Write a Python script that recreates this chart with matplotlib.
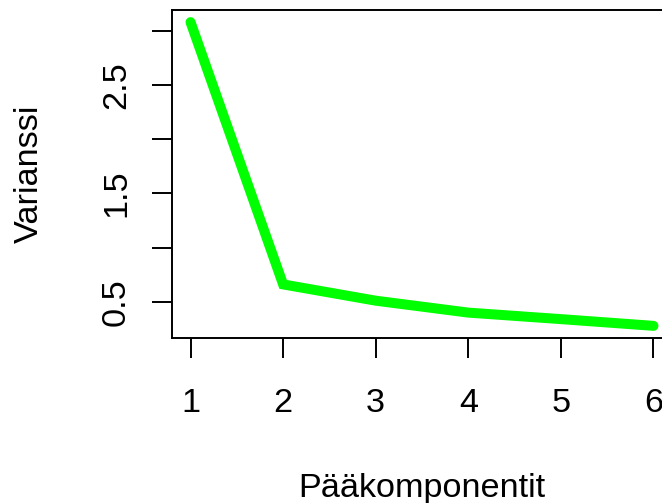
import matplotlib
matplotlib.use("Agg")
import matplotlib.pyplot as plt

# scree plot: variance per principal component
komponentit = [1, 2, 3, 4, 5, 6]
varianssi = [3.077, 0.66, 0.51, 0.40, 0.34, 0.278]
y_ticks = [0.5, 1.0, 1.5, 2.0, 2.5, 3.0]
y_ticklabels = ["0.5", "", "1.5", "", "2.5", ""]

plt.rcParams['font.family'] = ['Liberation Sans', 'DejaVu Sans']
FS = 24.7
PX = 72 / 100  # points per pixel at dpi 100

fig = plt.figure(figsize=(6.62, 5.03), dpi=100)
ax = fig.add_axes([172 / 662, 165 / 503, 500 / 662, 328 / 503])

ax.plot(komponentit, varianssi, color="#00ff00", lw=7.2,
        solid_capstyle="round", solid_joinstyle="miter", clip_on=False)

# R style axis ranges (4% padding)
r = max(varianssi) - min(varianssi)
ax.set_ylim(min(varianssi) - 0.04 * r, max(varianssi) + 0.04 * r)
ax.set_xlim(0.8, 6.2)

ax.set_xticks(komponentit)
ax.set_xticklabels([str(k) for k in komponentit], va="baseline")
ax.set_yticks(y_ticks)
ax.set_yticklabels(y_ticklabels, rotation=90, rotation_mode="anchor",
                   ha="center", va="baseline")

ax.tick_params(axis="both", direction="out", length=20 * PX, width=1.4,
               labelsize=FS, color="black")
ax.tick_params(axis="x", pad=54 * PX)
ax.tick_params(axis="y", pad=27 * PX)
for s in ax.spines.values():
    s.set_linewidth(1.4)

fig.text(422 / 662, 1 - 497 / 503, "Pääkomponentit", fontsize=FS,
         ha="center", va="baseline")
fig.text(38 / 662, 1 - 174 / 503, "Varianssi", fontsize=FS,
         ha="center", va="baseline", rotation=90, rotation_mode="anchor")

fig.savefig("out.png", dpi=100)
